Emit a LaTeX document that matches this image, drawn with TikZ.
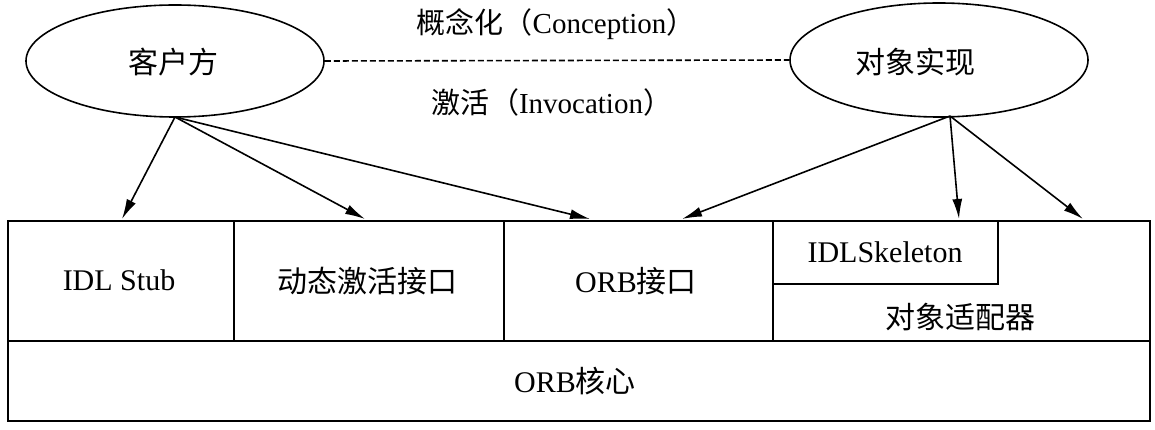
\documentclass[tikz,border=0pt]{standalone}
\usepackage{fontspec}
\setmainfont{Liberation Serif}
\newfontfamily\cjk{Noto Sans CJK SC}
\usetikzlibrary{shapes.geometric,arrows.meta}
\tikzset{
  oval/.style={draw, line width=1.6pt, ellipse, inner sep=0pt},
  cell/.style={draw, line width=2.4pt, rectangle, anchor=north west, inner sep=0pt},
  lbl/.style={font=\fontsize{30}{35}\selectfont, inner sep=0pt},
  conn/.style={line width=1.6pt, -{Latex[length=20pt,width=10pt]}},
}
\begin{document}
\begin{tikzpicture}[x=1pt,y=-1pt]
\useasboundingbox (0,0) rectangle (1155,430);
\fill[white] (0,0) rectangle (1155,430);
% ellipses
\node[oval, minimum width=298pt, minimum height=112pt] (cli) at (175,61) {};
\node[lbl] (clit) at (173,62) {\cjk 客户方};
\node[oval, minimum width=298pt, minimum height=114pt] (obj) at (939,60) {};
\node[lbl] (objt) at (915,62) {\cjk 对象实现};
\draw[line width=1.6pt, dashed, dash pattern=on 6pt off 3pt] (cli.east) -- (obj.west);
\node[lbl, font=\fontsize{29}{34}\selectfont] (conc) at (556,24) {{\cjk 概念化（}Conception{\cjk ）}};
\node[lbl, font=\fontsize{29}{34}\selectfont] (invo) at (552,102) {{\cjk 激活（}Invocation{\cjk ）}};
% boxes
\node[cell, minimum width=226pt, minimum height=120pt] (stub) at (7,220) {};
\node[cell, minimum width=270pt, minimum height=120pt] (dyn) at (233,220) {};
\node[cell, minimum width=269pt, minimum height=120pt] (orbi) at (503,220) {};
\node[cell, minimum width=377pt, minimum height=120pt] (adap) at (772,220) {};
\node[cell, minimum width=225pt, minimum height=63pt] (skel) at (772,220) {};
\node[cell, minimum width=1142pt, minimum height=80pt] (core) at (7,340) {};
\node[lbl] (stubt) at (119,280) {IDL Stub};
\node[lbl] (dynt) at (367,281) {\cjk 动态激活接口};
\node[lbl] (orbit) at (636,281) {ORB{\cjk 接口}};
\node[lbl] (skelt) at (885,252) {IDLSkeleton};
\node[lbl] (adapt) at (960,317) {\cjk 对象适配器};
\node[lbl] (coret) at (575,381) {ORB{\cjk 核心}};
% connector ends
\coordinate (lo) at (175,117);
\coordinate (ro) at (950,116);
\coordinate (t1) at (122,219);
\coordinate (t2) at (365,219);
\coordinate (t3) at (590,219);
\coordinate (t4) at (682,219);
\coordinate (t5) at (959,219);
\coordinate (t6) at (1083,219);
\draw[conn] (lo) -- (t1);
\draw[conn] (lo) -- (t2);
\draw[conn] (lo) -- (t3);
\draw[conn] (ro) -- (t4);
\draw[conn] (ro) -- (t5);
\draw[conn] (ro) -- (t6);
\end{tikzpicture}
\end{document}
